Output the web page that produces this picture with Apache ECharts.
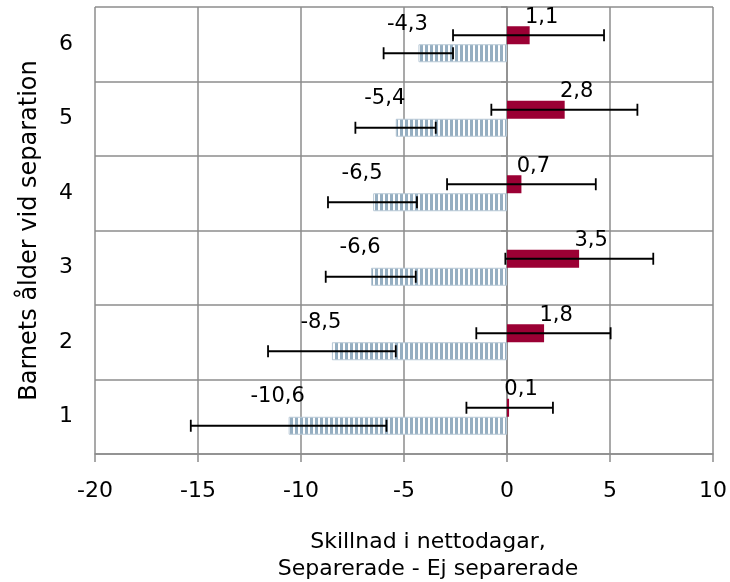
<!DOCTYPE html>
<html>
<head>
<meta charset="utf-8">
<script src="https://cdn.jsdelivr.net/npm/echarts@6/dist/echarts.min.js"></script>
<style>
html,body{margin:0;padding:0;background:#fff;}
#chart{width:730px;height:582px;}
</style>
</head>
<body>
<div id="chart"></div>
<script>
// Data
var categories = ['1', '2', '3', '4', '5', '6'];
var separeradeValues = [0.1, 1.8, 3.5, 0.7, 2.8, 1.1];
var separeradeLow = [-1.97, -1.49, -0.08, -2.91, -0.76, -2.62];
var separeradeHigh = [2.23, 5.03, 7.1, 4.31, 6.33, 4.71];
var ejValues = [-10.6, -8.5, -6.6, -6.5, -5.4, -4.3];
var ejLow = [-15.35, -11.6, -8.8, -8.69, -7.36, -5.99];
var ejHigh = [-5.85, -5.4, -4.43, -4.37, -3.46, -2.62];
var xTicks = [-20, -15, -10, -5, 0, 5, 10];

var FONT = 'DejaVu Sans';
var BAR_W = 18;

// striped pattern
var pc = document.createElement('canvas');
pc.width = 5; pc.height = 10;
var pctx = pc.getContext('2d');
pctx.fillStyle = '#ffffff'; pctx.fillRect(0, 0, 5, 10);
pctx.fillStyle = '#95aec1'; pctx.fillRect(0, 0, 3, 10);

function fmt(v) { return String(v).replace('.', ','); }

function errData(lo, hi) {
  return categories.map(function (c, i) { return [lo[i], hi[i], i]; });
}

function errRender(offset) {
  return function (params, api) {
    var lo = api.value(0), hi = api.value(1), ci = api.value(2);
    var p1 = api.coord([lo, ci]);
    var p2 = api.coord([hi, ci]);
    var y = p1[1] + offset;
    var cap = 6;
    var st = { stroke: '#000', lineWidth: 1.8 };
    return {
      type: 'group',
      children: [
        { type: 'line', shape: { x1: p1[0], y1: y, x2: p2[0], y2: y }, style: st },
        { type: 'line', shape: { x1: p1[0], y1: y - cap, x2: p1[0], y2: y + cap }, style: st },
        { type: 'line', shape: { x1: p2[0], y1: y - cap, x2: p2[0], y2: y + cap }, style: st }
      ]
    };
  };
}

var chart = echarts.init(document.getElementById('chart'));
chart.setOption({
  animation: false,
  textStyle: { fontFamily: FONT },
  grid: { left: 95, right: 17, top: 7, bottom: 128, containLabel: false, outerBoundsMode: 'none' },
  xAxis: {
    type: 'value',
    min: xTicks[0], max: xTicks[xTicks.length - 1], interval: 5,
    axisLine: { show: true, onZero: false, lineStyle: { color: '#8c8c8c', width: 1.5 } },
    axisTick: { show: true, length: 8, lineStyle: { color: '#8c8c8c', width: 1.5 } },
    splitLine: { show: true, lineStyle: { color: '#8c8c8c', width: 1.5 } },
    axisLabel: { color: '#000', fontSize: 22, fontFamily: FONT, margin: 26 },
    name: 'Skillnad i nettodagar,\nSeparerade - Ej separerade',
    nameLocation: 'middle',
    nameGap: 75,
    nameTextStyle: { color: '#000', fontSize: 22, fontFamily: FONT, lineHeight: 27, padding: [0, 0, 0, 48] }
  },
  yAxis: {
    type: 'category',
    data: categories,
    axisLine: { show: true, lineStyle: { color: '#8c8c8c', width: 1.5 } },
    axisTick: { show: true, length: 6, lineStyle: { color: '#8c8c8c', width: 1.5 } },
    splitLine: { show: true, lineStyle: { color: '#8c8c8c', width: 1.5 } },
    axisLabel: { color: '#000', fontSize: 22, fontFamily: FONT, margin: 22 },
    name: 'Barnets ålder vid separation',
    nameLocation: 'middle',
    nameGap: 53,
    nameRotate: 90,
    nameTextStyle: { color: '#000', fontSize: 24, fontFamily: FONT }
  },
  series: [
    {
      type: 'bar',
      name: 'Separerade',
      data: separeradeValues,
      barWidth: BAR_W,
      barGap: '0%',
      itemStyle: { color: '#9b0034' },
      label: {
        show: true, position: 'right', distance: 0, align: 'center', verticalAlign: 'middle',
        offset: [12, -18], color: '#000', fontSize: 21, fontFamily: FONT,
        formatter: function (p) { return fmt(p.value); }
      },
      z: 2
    },
    {
      type: 'bar',
      name: 'Ej separerade',
      data: ejValues,
      barWidth: BAR_W,
      barGap: '0%',
      itemStyle: { color: { image: pc, repeat: 'repeat' }, borderColor: '#b9c9d6', borderWidth: 1 },
      label: {
        show: true, position: 'left', distance: 0, align: 'center', verticalAlign: 'middle',
        offset: [-11, -29], color: '#000', fontSize: 21, fontFamily: FONT,
        formatter: function (p) { return fmt(p.value); }
      },
      z: 2
    },
    {
      type: 'custom',
      name: 'err-sep',
      data: errData(separeradeLow, separeradeHigh),
      encode: { x: [0, 1], y: 2 },
      renderItem: errRender(-BAR_W / 2),
      z: 5
    },
    {
      type: 'custom',
      name: 'err-ej',
      data: errData(ejLow, ejHigh),
      encode: { x: [0, 1], y: 2 },
      renderItem: errRender(BAR_W / 2),
      z: 5
    }
  ]
});
</script>
</body>
</html>
